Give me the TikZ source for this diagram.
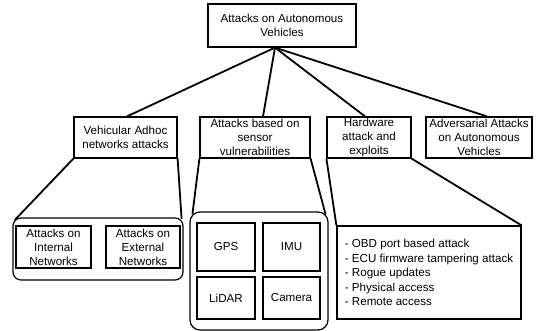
\documentclass[tikz,border=0pt]{standalone}
\usepackage{fontspec}
\setmainfont{Liberation Sans}
\usetikzlibrary{calc}
\newcommand\diagfont{\fontsize{11.6}{14}\selectfont}
\newcommand\listfont{\fontsize{11.6}{14.6}\selectfont}
\tikzset{
  box/.style={draw, line width=1.2pt, inner sep=0pt, align=center, font=\diagfont},
  group/.style={draw, line width=1.2pt, inner sep=0pt, rounded corners=#1},
  group/.default=9pt,
  link/.style={line width=1.8pt},
}
\begin{document}
\begin{tikzpicture}[x=1pt,y=-1pt]
  \useasboundingbox (0,0) rectangle (538,331);

  % root
  \node[box, minimum width=148pt, minimum height=43pt] (root) at (282,25.5)
    {Attacks on Autonomous\\Vehicles};
  \coordinate (hub) at ($(root.south)+(-7,0)$);

  % second level
  \node[box, minimum width=103pt, minimum height=41pt] (vanet) at (125.5,137.5)
    {Vehicular Adhoc\\networks attacks};
  \node[box, minimum width=110pt, minimum height=41pt] (sensor) at (255,137.5)
    {Attacks based on\\sensor\\vulnerabilities};
  \node[box, minimum width=84pt, minimum height=41pt] (hw) at (369,137.5)
    {Hardware\\attack and\\exploits};
  \node[box, minimum width=106pt, minimum height=41pt] (adv) at (479,137.5)
    {Adversarial Attacks\\on Autonomous\\Vehicles};

  % VANET group
  \node[group=8pt, minimum width=170pt, minimum height=62pt] (grpA) at (98,249) {};
  \node[box, minimum width=75pt, minimum height=42pt] (internal) at (53.5,247)
    {Attacks on\\Internal\\Networks};
  \node[box, minimum width=74pt, minimum height=42pt] (external) at (143,247)
    {Attacks on\\External\\Networks};

  % sensor group
  \node[group=10pt, minimum width=138pt, minimum height=118pt] (grpB) at (259,271) {};
  \node[box, minimum width=58pt, minimum height=48pt] (gps) at (226,247) {GPS};
  \node[box, minimum width=57pt, minimum height=48pt] (imu) at (291.5,247) {IMU};
  \node[box, minimum width=58pt, minimum height=42pt] (lidar) at (226,298) {LiDAR};
  \node[box, minimum width=57pt, minimum height=42pt] (camera) at (291.5,298) {Camera};

  % hardware list
  \node[draw, line width=1.2pt, minimum width=184pt, minimum height=93pt] (grpC) at (429,272.5) {};
  \node[align=left, inner sep=0pt, font=\listfont] (hwlist) at (grpC.center)
    {- OBD port based attack\\
     - ECU firmware tampering attack\\
     - Rogue updates\\
     - Physical access\\
     - Remote access};

  % root to categories
  \draw[link] (hub) -- ($(vanet.north)+(1.5,0)$);
  \draw[link] (hub) -- ($(sensor.north)+(8,0)$);
  \draw[link] (hub) -- ($(hw.north)+(-4,0)$);
  \draw[link] (hub) -- ($(adv.north)+(8,0)$);

  % categories to their groups
  \draw[link] (vanet.south west) -- ($(grpA.north west)+(2.5,2.5)$);
  \draw[link] (vanet.south east) -- ($(grpA.north east)+(-2,1.5)$);
  \draw[link] (sensor.south west) -- ($(grpB.north west)+(3,3)$);
  \draw[link] (sensor.south east) -- ($(grpB.north east)+(-3,3)$);
  \draw[link] (hw.south west) -- (grpC.north west);
  \draw[link] (hw.south east) -- (grpC.north east);
\end{tikzpicture}
\end{document}
